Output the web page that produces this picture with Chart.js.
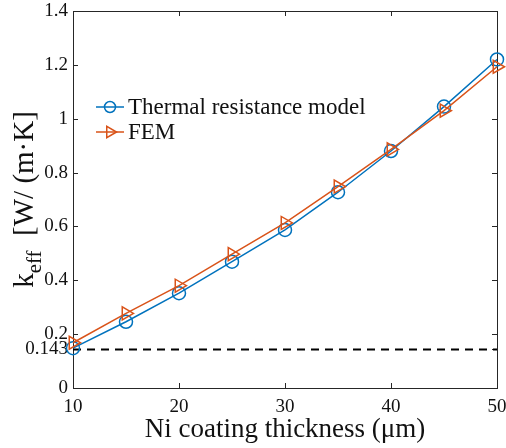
<!DOCTYPE html>
<html>
<head>
<meta charset="utf-8">
<script src="https://cdn.jsdelivr.net/npm/chart.js@4/dist/chart.umd.min.js"></script>
<style>
html,body{margin:0;padding:0;background:#fff;}
canvas{display:block;}
</style>
</head>
<body>
<canvas id="c" width="506" height="448"></canvas>
<script>
// ---- data ----
const thickness = [10, 15, 20, 25, 30, 35, 40, 45, 50];
const thermalResistanceModel = [0.148, 0.246, 0.352, 0.469, 0.587, 0.727, 0.880, 1.045, 1.220];
const femValues = [0.168, 0.277, 0.380, 0.497, 0.613, 0.748, 0.886, 1.030, 1.193];
const baselineValue = 0.143;
const baselineRange = [10, 50];
const xTickValues = [10, 20, 30, 40, 50];
const yTickValues = [0, 0.143, 0.2, 0.4, 0.6, 0.8, 1, 1.2, 1.4];
const seriesNames = ['Thermal resistance model', 'FEM'];
const xTitle = 'Ni coating thickness (\u03bcm)';
const yTitleMain = 'k';
const yTitleSub = 'eff';
const yTitleRest = '  [W/ (m\u00b7K]';

const FONT = "'Liberation Serif', 'Times New Roman', serif";
const AXIS = '#262626';
const BLUE = '#0072BD';
const ORANGE = '#D95319';

const pts = (xs, ys) => xs.map((x, i) => ({x: x, y: ys[i]}));

const frameTicks = {
  id: 'frameTicks',
  beforeDatasetsDraw(chart) {
    const {ctx, chartArea: a, scales: {x, y}} = chart;
    ctx.save();
    ctx.strokeStyle = AXIS;
    ctx.lineWidth = 1;
    ctx.strokeRect(Math.round(a.left) + 0.5, Math.round(a.top) + 0.5,
                   Math.round(a.right - a.left), Math.round(a.bottom - a.top));
    const L = 5;
    ctx.beginPath();
    xTickValues.forEach(v => {
      const px = Math.round(x.getPixelForValue(v)) + 0.5;
      ctx.moveTo(px, a.bottom); ctx.lineTo(px, a.bottom - L);
      ctx.moveTo(px, a.top); ctx.lineTo(px, a.top + L);
    });
    yTickValues.forEach(v => {
      const py = Math.round(y.getPixelForValue(v)) + 0.5;
      ctx.moveTo(a.left, py); ctx.lineTo(a.left + L, py);
      ctx.moveTo(a.right, py); ctx.lineTo(a.right - L, py);
    });
    ctx.stroke();
    ctx.restore();
  }
};

const customLegend = {
  id: 'customLegend',
  afterDatasetsDraw(chart) {
    const {ctx, chartArea: a} = chart;
    ctx.save();
    const x0 = a.left + 23, x1 = a.left + 51, xm = (x0 + x1) / 2;
    [0, 1].forEach((i, row) => {
      const ds = chart.data.datasets[i];
      const yy = a.top + 96 + row * 25;
      ctx.strokeStyle = ds.borderColor;
      ctx.lineWidth = ds.borderWidth;
      ctx.beginPath(); ctx.moveTo(x0, yy); ctx.lineTo(x1, yy); ctx.stroke();
      ctx.fillStyle = 'rgba(0,0,0,0)';
      Chart.helpers.drawPoint(ctx, {
        pointStyle: ds.pointStyle, rotation: ds.pointRotation || 0,
        radius: ds.pointRadius - 1, borderWidth: ds.pointBorderWidth
      }, xm, yy);
      ctx.fillStyle = '#111';
      ctx.font = '23px ' + FONT;
      ctx.textBaseline = 'middle';
      ctx.textAlign = 'left';
      ctx.fillText(ds.label, x1 + 4, yy + 1);
    });
    ctx.restore();
  }
};

const yTitlePlugin = {
  id: 'yTitle',
  afterDraw(chart) {
    const {ctx, chartArea: a} = chart;
    const cy = (a.top + a.bottom) / 2;
    ctx.save();
    ctx.translate(33, cy);
    ctx.rotate(-Math.PI / 2);
    ctx.fillStyle = '#111';
    ctx.textBaseline = 'alphabetic';
    ctx.textAlign = 'left';
    const fMain = '29px ' + FONT, fSub = '21px ' + FONT;
    ctx.font = fMain; const w1 = ctx.measureText(yTitleMain).width;
    const w3 = ctx.measureText(yTitleRest).width;
    ctx.font = fSub; const w2 = ctx.measureText(yTitleSub).width;
    let sx = -(w1 + w2 + w3) / 2;
    ctx.font = fMain; ctx.fillText(yTitleMain, sx, 0); sx += w1;
    ctx.font = fSub; ctx.fillText(yTitleSub, sx, 8); sx += w2;
    ctx.font = fMain; ctx.fillText(yTitleRest, sx, 0);
    ctx.restore();
  }
};

new Chart(document.getElementById('c'), {
  type: 'line',
  data: {
    datasets: [
      {
        label: seriesNames[0],
        data: pts(thickness, thermalResistanceModel),
        borderColor: BLUE, backgroundColor: 'rgba(0,0,0,0)',
        borderWidth: 1.5, pointStyle: 'circle', pointRadius: 6.5,
        pointBorderWidth: 1.5, pointBackgroundColor: 'rgba(0,0,0,0)',
        pointBorderColor: BLUE, tension: 0, clip: false, order: 1
      },
      {
        label: seriesNames[1],
        data: pts(thickness, femValues),
        borderColor: ORANGE, backgroundColor: 'rgba(0,0,0,0)',
        borderWidth: 1.5, pointStyle: 'triangle', pointRotation: 90, pointRadius: 7.5,
        pointBorderWidth: 1.5, pointBackgroundColor: 'rgba(0,0,0,0)',
        pointBorderColor: ORANGE, tension: 0, clip: false, order: 0
      },
      {
        label: 'baseline',
        data: baselineRange.map(x => ({x: x, y: baselineValue})),
        borderColor: '#000', borderWidth: 2, borderDash: [8, 6],
        pointRadius: 0, clip: false, order: 2
      }
    ]
  },
  options: {
    responsive: false,
    animation: false,
    devicePixelRatio: 1,
    layout: {padding: {top: 11, right: 9, left: 0, bottom: 0}},
    plugins: {legend: {display: false}, tooltip: {enabled: false}},
    scales: {
      x: {
        type: 'linear', position: 'bottom', min: 10, max: 50,
        afterBuildTicks: s => { s.ticks = xTickValues.map(v => ({value: v})); },
        afterFit: s => { s.height = 60; s.paddingRight = 0; s.paddingLeft = 0; },
        grid: {display: true, drawOnChartArea: false, drawTicks: false},
        border: {display: false},
        ticks: {autoSkip: false, maxRotation: 0, padding: 8, color: '#111',
                font: {family: FONT, size: 19}, callback: v => String(v)},
        title: {display: true, text: xTitle, color: '#111',
                font: {family: FONT, size: 27}, padding: {top: 0, bottom: 2}}
      },
      y: {
        type: 'linear', min: 0, max: 1.4,
        afterBuildTicks: s => { s.ticks = yTickValues.map(v => ({value: v})); },
        afterFit: s => { s.width = 73; s.paddingTop = 0; s.paddingBottom = 0; },
        grid: {display: true, drawOnChartArea: false, drawTicks: false},
        border: {display: false},
        ticks: {autoSkip: false, padding: 5, color: '#111',
                font: {family: FONT, size: 19}, callback: v => String(v)},
        title: {display: false}
      }
    }
  },
  plugins: [frameTicks, customLegend, yTitlePlugin]
});
</script>
</body>
</html>
